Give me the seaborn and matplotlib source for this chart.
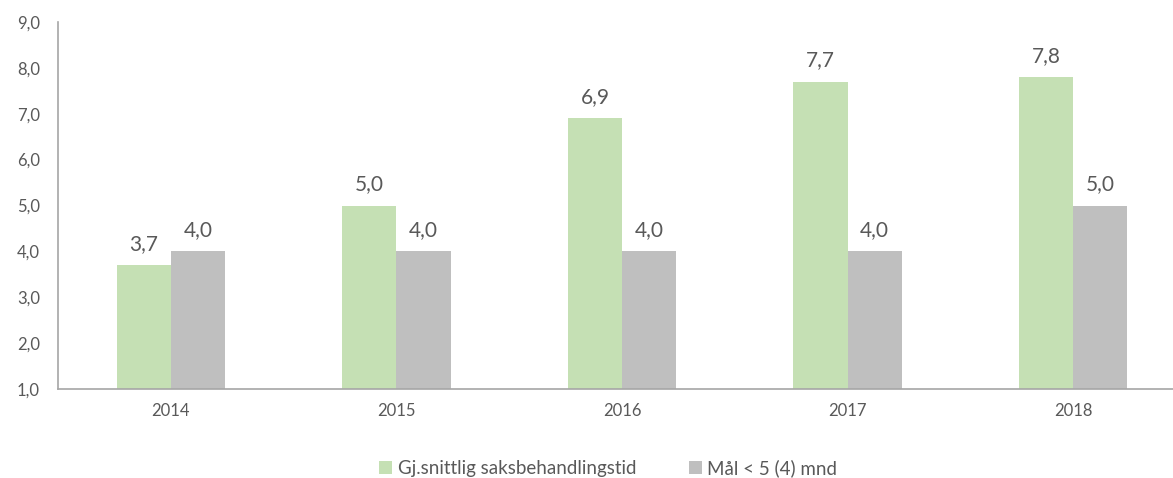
import pandas as pd
import seaborn as sns
import matplotlib.pyplot as plt

# Data
years = ['2014', '2015', '2016', '2017', '2018']
avg_time = [3.7, 5.0, 6.9, 7.7, 7.8]
target = [4.0, 4.0, 4.0, 4.0, 5.0]
series = ['Gj.snittlig saksbehandlingstid', 'Mål < 5 (4) mnd']
colors = ['#C5E0B4', '#BFBFBF']

df = pd.DataFrame({
    'year': years * 2,
    'value': avg_time + target,
    'series': [series[0]] * len(years) + [series[1]] * len(years),
})

sns.set_style('white')
plt.rcParams['font.family'] = ['Lato', 'DejaVu Sans']
text_col = '#595959'

fig = plt.figure(figsize=(11.73, 4.78), dpi=100)
ax = fig.add_axes([58 / 1173, 1 - 389 / 478, 1128 / 1173, 367 / 478])

sns.barplot(data=df, x='year', y='value', hue='series', palette=colors,
            width=0.48, saturation=1, linewidth=0, ax=ax, legend=True)

ax.set_ylim(1, 9)
ax.set_xlim(-0.5, 4.5)
ax.set_yticks(range(1, 10))
ax.set_yticklabels([f'{v},0' for v in range(1, 10)])
ax.set_xlabel('')
ax.set_ylabel('')
ax.tick_params(axis='both', colors=text_col, labelsize=12, length=0)
ax.tick_params(axis='x', pad=10)
ax.tick_params(axis='y', pad=13)

for s in ['top', 'right']:
    ax.spines[s].set_visible(False)
for s in ['left', 'bottom']:
    ax.spines[s].set_color('#A6A6A6')
    ax.spines[s].set_linewidth(1.2)

for cont in ax.containers:
    labels = [f'{v:.1f}'.replace('.', ',') for v in cont.datavalues]
    ax.bar_label(cont, labels=labels, padding=8, fontsize=15, color=text_col)

handles, lbls = ax.get_legend_handles_labels()
ax.legend(handles, lbls, loc='lower center', bbox_to_anchor=(0.5 - 14 / 1128, -0.285),
          ncol=2, frameon=False, fontsize=13.5, labelcolor=text_col,
          handlelength=0.7, handleheight=0.7, handletextpad=0.3, columnspacing=2.8)

fig.savefig('out.png', dpi=100)
